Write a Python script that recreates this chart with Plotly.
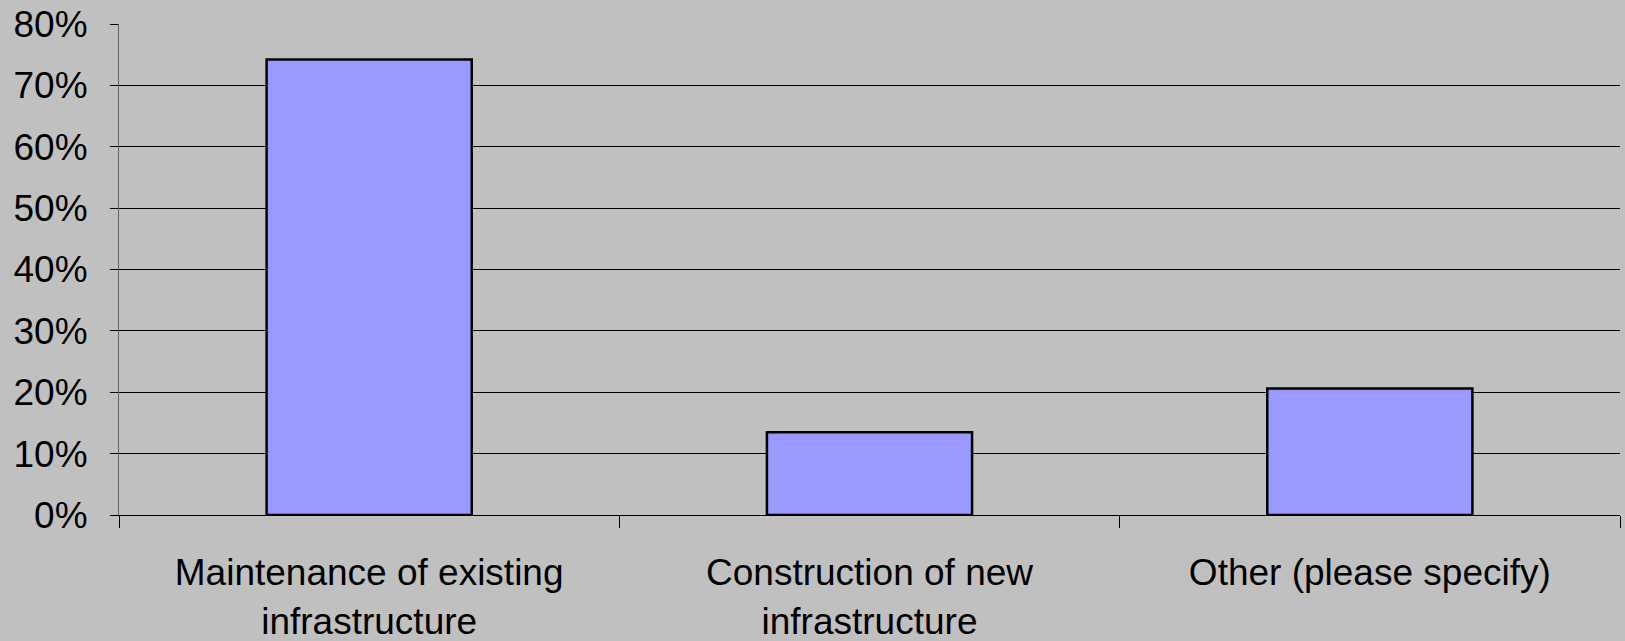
import plotly.graph_objects as go

categories = ["Maintenance of existing<br>infrastructure",
              "Construction of new<br>infrastructure",
              "Other (please specify)"]
values = [74.2, 13.5, 20.6]
y_ticks = [0, 10, 20, 30, 40, 50, 60, 70, 80]
y_tick_labels = [f"{v}%" for v in y_ticks]

fig = go.Figure(go.Bar(
    x=categories, y=values,
    marker=dict(color="#9999FF", line=dict(color="black", width=2.5)),
))

fig.update_layout(
    width=1625, height=641,
    paper_bgcolor="#C0C0C0", plot_bgcolor="#C0C0C0",
    margin=dict(l=119, r=5, t=24, b=126),
    bargap=0.59,
    showlegend=False,
    font=dict(family="Liberation Sans, Arial", size=37, color="black"),
)
fig.update_xaxes(
    type="category", range=[-0.5, 2.5], automargin=False,
    tickson="boundaries", ticks="outside", ticklen=12, tickcolor="black", tickwidth=1,
    showline=True, linecolor="black", linewidth=1,
    showgrid=False, tickfont=dict(size=37), ticklabelstandoff=25,
)
fig.update_yaxes(
    range=[0, 80], tickmode="array", tickvals=y_ticks, ticktext=y_tick_labels,
    automargin=False,
    ticks="outside", ticklen=8, tickcolor="black", tickwidth=1,
    showline=True, linecolor="#606060", linewidth=1,
    showgrid=True, gridcolor="black", gridwidth=1,
    zeroline=False, tickfont=dict(size=37), ticklabelstandoff=15,
)

fig.write_html("out.html", config={"displayModeBar": False},
               post_script="document.body.style.margin='0';document.body.style.background='#C0C0C0';")
